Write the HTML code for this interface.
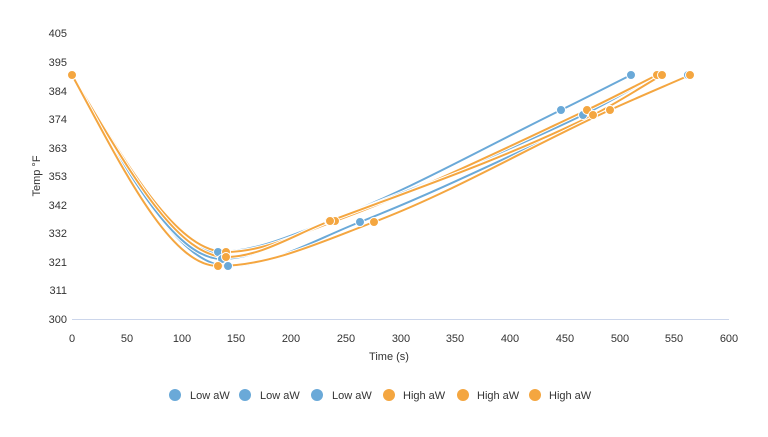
<!DOCTYPE html>
<html><head><meta charset="utf-8"><style>
body{margin:0;background:#fff;width:768px;height:432px;overflow:hidden}
text{font-family:"Liberation Sans",sans-serif;fill:#333;font-size:11px}
</style></head><body>
<svg id="s" width="768" height="432" xmlns="http://www.w3.org/2000/svg">
<line x1="72" y1="319.5" x2="729" y2="319.5" stroke="#ccd6eb" stroke-width="1"/>
<g text-anchor="end">
<text x="67" y="37">405</text><text x="67" y="66">395</text><text x="67" y="95">384</text><text x="67" y="123">374</text><text x="67" y="152">363</text><text x="67" y="180">353</text><text x="67" y="209">342</text><text x="67" y="237">332</text><text x="67" y="266">321</text><text x="67" y="294">311</text><text x="67" y="323">300</text>
</g>
<g text-anchor="middle">
<text x="72" y="342">0</text><text x="127" y="342">50</text><text x="182" y="342">100</text><text x="236" y="342">150</text><text x="291" y="342">200</text><text x="346" y="342">250</text><text x="401" y="342">300</text><text x="455" y="342">350</text><text x="510" y="342">400</text><text x="565" y="342">450</text><text x="620" y="342">500</text><text x="674" y="342">550</text><text x="729" y="342">600</text>
<text x="389" y="360">Time (s)</text>
<text transform="translate(40,176) rotate(-90)">Temp °F</text>
</g>
<g id="series"></g>
<g>
<circle cx="175" cy="395" r="6" fill="#6aa9d8"/><text x="190" y="399">Low aW</text>
<circle cx="245" cy="395" r="6" fill="#6aa9d8"/><text x="260" y="399">Low aW</text>
<circle cx="317" cy="395" r="6" fill="#6aa9d8"/><text x="332" y="399">Low aW</text>
<circle cx="389" cy="395" r="6" fill="#f4a640"/><text x="403" y="399">High aW</text>
<circle cx="463" cy="395" r="6" fill="#f4a640"/><text x="477" y="399">High aW</text>
<circle cx="535" cy="395" r="6" fill="#f4a640"/><text x="549" y="399">High aW</text>
</g>
</svg>
<script>
var B="#6aa9d8",O="#f4a640";
var S=[
[B,[[72,75],[218,252],[329,221],[561,110],[631,75]]],
[B,[[72,75],[228,266],[360,222],[610,110],[688,75]]],
[B,[[72,75],[222,259],[330,221],[583,115],[657,75]]],
[O,[[72,75],[226,252],[335,221],[587,110],[657,75]]],
[O,[[72,75],[226,257],[330,221],[593,115],[662,75]]],
[O,[[72,75],[218,266],[374,222],[610,110],[690,75]]]];
function path(p){var n=p.length,m=[],d=[];
for(var i=0;i<n-1;i++)d.push((p[i+1][1]-p[i][1])/(p[i+1][0]-p[i][0]));
for(i=0;i<n;i++){if(i==0)m.push(d[0]);else if(i==n-1)m.push(d[n-2]);else m.push(d[i-1]*d[i]<=0?0:(d[i-1]+d[i])/2);}
m[0]=d[0]*1.4;
var s="M"+p[0];for(i=0;i<n-1;i++){var h=(p[i+1][0]-p[i][0])/3;
s+="C"+(p[i][0]+h)+","+(p[i][1]+m[i]*h)+" "+(p[i+1][0]-h)+","+(p[i+1][1]-m[i+1]*h)+" "+p[i+1];}return s;}
var g=document.getElementById("series"),h="";
S.forEach(function(s){var d=path(s[1]);h+='<path d="'+d+'" fill="none" stroke="#fff" stroke-width="4"/><path d="'+d+'" fill="none" stroke="'+s[0]+'" stroke-width="2"/>';});
S.forEach(function(s){s[1].forEach(function(q){h+='<circle cx="'+q[0]+'" cy="'+q[1]+'" r="4.5" fill="'+s[0]+'" stroke="#fff" stroke-width="1"/>';});});
g.innerHTML=h;
</script>
</body></html>
